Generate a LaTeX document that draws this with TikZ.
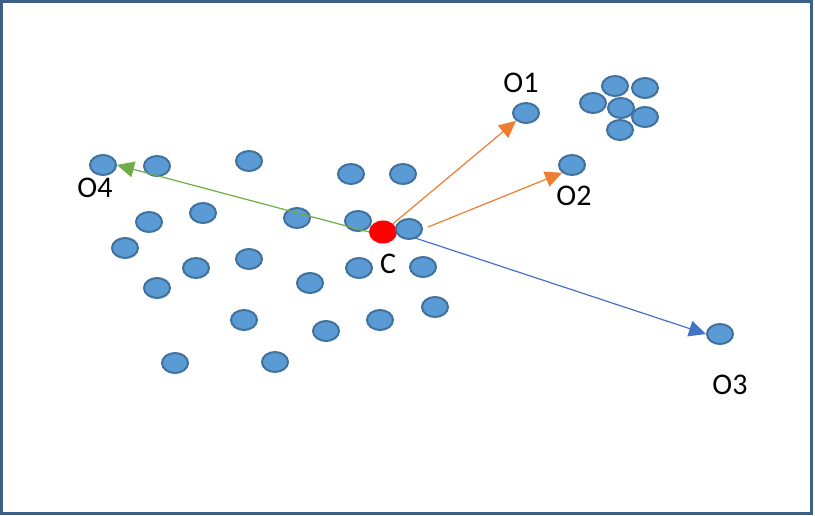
\documentclass[tikz,border=0pt]{standalone}
\usepackage{fontspec}
\setmainfont{Carlito}
\usetikzlibrary{arrows.meta,shapes.geometric}
\definecolor{ptfill}{HTML}{5B9BD5}
\definecolor{ptline}{HTML}{41719C}
\definecolor{frameclr}{HTML}{3E5F87}
\definecolor{orangeA}{HTML}{ED7D31}
\definecolor{blueA}{HTML}{4472C4}
\definecolor{greenA}{HTML}{70AD47}
\tikzset{
  pt/.style={ellipse, draw=ptline, fill=ptfill, line width=2pt, minimum width=26pt, minimum height=20pt, inner sep=0pt},
  center/.style={ellipse, draw=red, fill=red, line width=1pt, minimum width=27pt, minimum height=22pt, inner sep=0pt},
  lbl/.style={font=\fontsize{30}{34}\selectfont, text=black, inner sep=0pt},
  arr/.style={line width=1.2pt, -{Triangle[length=17pt,width=16pt]}},
}
\begin{document}
\begin{tikzpicture}[x=1pt,y=-1pt]
\useasboundingbox (0,0) rectangle (815,516);
\draw[frameclr, line width=3pt] (1.5,1.5) rectangle (811.5,513.5);
% points
\node[pt] (o1) at (526,113) {};
\node[pt] (k1) at (615,86) {};
\node[pt] (k2) at (645,88) {};
\node[pt] (k3) at (593,103) {};
\node[pt] (k4) at (621,108) {};
\node[pt] (k5) at (645,117) {};
\node[pt] (k6) at (620,130) {};
\node[pt] (o2) at (572,165) {};
\node[pt] (o4) at (103,165) {};
\node[pt] (p1) at (157,166) {};
\node[pt] (p2) at (249,161) {};
\node[pt] (p3) at (351,174) {};
\node[pt] (p4) at (403,174) {};
\node[pt] (p5) at (149,222) {};
\node[pt] (p6) at (203,213) {};
\node[pt] (p7) at (297,218) {};
\node[pt] (p8) at (358,221) {};
\node[pt] (p10) at (125,248) {};
\node[pt] (p11) at (196,268) {};
\node[pt] (p12) at (249,259) {};
\node[pt] (p13) at (310,283) {};
\node[pt] (p14) at (359,268) {};
\node[pt] (p15) at (423,267) {};
\node[pt] (p16) at (157,288) {};
\node[pt] (p17) at (435,307) {};
\node[pt] (p18) at (244,320) {};
\node[pt] (p19) at (380,320) {};
\node[pt] (p20) at (326,331) {};
\node[pt] (p21) at (175,363) {};
\node[pt] (p22) at (275,362) {};
\node[pt] (o3) at (720,334) {};
\node[center] (c) at (383,232) {};
% labels
\node[lbl] (lo1) at (521,83) {O1};
\node[lbl] (lo2) at (574,196) {O2};
\node[lbl] (lo3) at (730,385) {O3};
\node[lbl] (lo4) at (95,188) {O4};
\node[lbl] (lc) at (388,264) {C};
% arrows
\coordinate (s2) at (428,227);
\draw[arr, blueA] (c.east) -- (o3.west);
\node[pt] (p9) at (409,229) {};
\draw[arr, orangeA] (c.north east) -- (o1.south west);
\draw[arr, orangeA] (s2) -- (o2.south west);
\draw[arr, greenA] (c.west) -- (o4.east);
\end{tikzpicture}
\end{document}
